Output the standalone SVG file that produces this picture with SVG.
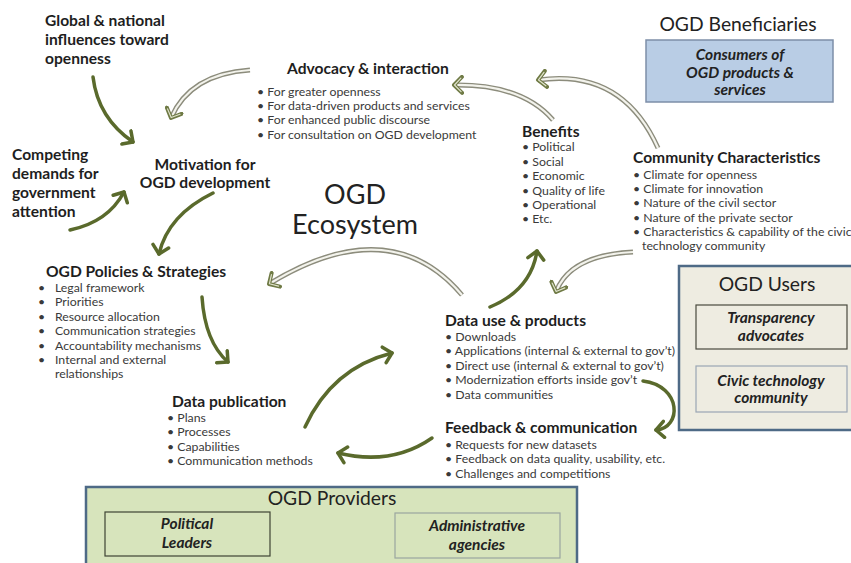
<svg xmlns="http://www.w3.org/2000/svg" width="851" height="563" viewBox="0 0 851 563">
<style>
.h{font-family:Lato,"Open Sans",sans-serif;font-weight:bold;font-size:15.6px;fill:#1e1e1e}
.i{font-family:Lato,"Open Sans",sans-serif;font-size:12.3px;fill:#3a3a3a}
.t{font-family:Lato,"Open Sans",sans-serif;font-size:19.3px;fill:#222}
.bi{font-family:Lato,"Open Sans",sans-serif;font-weight:bold;font-style:italic;font-size:15.5px;fill:#222;text-anchor:middle}
.big{font-family:Lato,"Open Sans",sans-serif;font-size:27px;fill:#222;text-anchor:middle}
.solid{fill:none;stroke:#5a6a2c;stroke-width:3.5;stroke-linecap:round}
.hol1{fill:none;stroke:#8c8c7c;stroke-width:5}
.hol2{fill:none;stroke:#f3f3ec;stroke-width:2.2}
</style>
<defs>
<marker id="ah" markerUnits="userSpaceOnUse" markerWidth="20" markerHeight="20" refX="10" refY="10" orient="auto" viewBox="0 0 20 20">
<path d="M2,2 L10,10 L2,18" fill="none" stroke="#5a6a2c" stroke-width="3.5" stroke-linecap="round" stroke-linejoin="round"/>
</marker>
<marker id="ahh" markerUnits="userSpaceOnUse" markerWidth="20" markerHeight="20" refX="10" refY="10" orient="auto" viewBox="0 0 20 20">
<path d="M2,2 L10,10 L2,18" fill="none" stroke="#6f7a45" stroke-width="4" stroke-linecap="round" stroke-linejoin="round"/>
<path d="M3,3.2 L9.5,10 L3,16.8" fill="none" stroke="#dfe2cc" stroke-width="1.2" stroke-linecap="round" stroke-linejoin="round"/>
</marker>
</defs>
<rect width="851" height="563" fill="#ffffff"/>

<g id="connectors">
<path class="solid" d="M93,77 Q98,118 133,142" marker-end="url(#ah)"/>
<path class="solid" d="M70,230 Q108,222 124,192" marker-end="url(#ah)"/>
<path class="solid" d="M213,193 Q168,215 159,254" marker-end="url(#ah)"/>
<path class="solid" d="M202,297 Q205,342 228,362" marker-end="url(#ah)"/>
<path class="solid" d="M305,427 Q332,368 392,353" marker-end="url(#ah)"/>
<path class="solid" d="M432,438 Q392,466 338,453" marker-end="url(#ah)"/>
<path class="solid" d="M490,307 Q531,290 537,251" marker-end="url(#ah)"/>
<path class="solid" d="M643,381 C682,386 682,428 656,430" marker-end="url(#ah)"/>

<path class="hol1" d="M250,70 Q190,74 171,118"/>
<path class="hol2" d="M250,70 Q190,74 171,118" marker-end="url(#ahh)"/>
<path class="hol1" d="M553,120 Q522,84 454,85"/>
<path class="hol2" d="M553,120 Q522,84 454,85" marker-end="url(#ahh)"/>
<path class="hol1" d="M658,148 Q622,68 538,80"/>
<path class="hol2" d="M658,148 Q622,68 538,80" marker-end="url(#ahh)"/>
<path class="hol1" d="M633,252 Q570,255 556,292"/>
<path class="hol2" d="M633,252 Q570,255 556,292" marker-end="url(#ahh)"/>
<path class="hol1" d="M462,295 Q390,210 269,284"/>
<path class="hol2" d="M462,295 Q390,210 269,284" marker-end="url(#ahh)"/>
</g>

<g id="global">
<text class="h" x="45" y="26">Global &amp; national</text>
<text class="h" x="45" y="45">influences toward</text>
<text class="h" x="45" y="64">openness</text>
</g>

<g id="competing">
<text class="h" x="12" y="160">Competing</text>
<text class="h" x="12" y="179">demands for</text>
<text class="h" x="12" y="198">government</text>
<text class="h" x="12" y="217">attention</text>
</g>

<g id="motivation">
<text class="h" x="205" y="170" text-anchor="middle">Motivation for</text>
<text class="h" x="205" y="188" text-anchor="middle">OGD development</text>
</g>

<g id="ecosystem">
<text class="big" x="355" y="204">OGD</text>
<text class="big" x="355" y="234">Ecosystem</text>
</g>

<g id="advocacy">
<text class="h" x="287" y="74">Advocacy &amp; interaction</text>
<text class="i" x="257" y="96">•  For greater openness</text>
<text class="i" x="257" y="110">•  For data-driven products and services</text>
<text class="i" x="257" y="124">•  For enhanced public discourse</text>
<text class="i" x="257" y="139">•  For consultation on OGD development</text>
</g>

<g id="benefits">
<text class="h" x="522" y="137">Benefits</text>
<text class="i" x="522" y="151">•  Political</text>
<text class="i" x="522" y="166">•  Social</text>
<text class="i" x="522" y="180">•  Economic</text>
<text class="i" x="522" y="195">•  Quality of life</text>
<text class="i" x="522" y="209">•  Operational</text>
<text class="i" x="522" y="223">•  Etc.</text>
</g>

<g id="community">
<text class="h" x="633" y="163">Community Characteristics</text>
<text class="i" x="633" y="179">•  Climate for openness</text>
<text class="i" x="633" y="193">•  Climate for innovation</text>
<text class="i" x="633" y="207">•  Nature of the civil sector</text>
<text class="i" x="633" y="222">•  Nature of the private sector</text>
<text class="i" x="633" y="236">•  Characteristics &amp; capability of the civic</text>
<text class="i" x="642" y="250">technology community</text>
</g>

<g id="beneficiaries">
<text class="t" x="738" y="31" text-anchor="middle">OGD Beneficiaries</text>
<rect x="646" y="40" width="187" height="62" fill="#b9cde5" stroke="#7d8ea8" stroke-width="1.5"/>
<text class="bi" x="740" y="60">Consumers of</text>
<text class="bi" x="740" y="78">OGD products &amp;</text>
<text class="bi" x="740" y="95">services</text>
</g>

<g id="policies">
<text class="h" x="46" y="277">OGD Policies &amp; Strategies</text>
<text class="i" x="38" y="292">•</text><text class="i" x="55" y="292">Legal framework</text>
<text class="i" x="38" y="306">•</text><text class="i" x="55" y="306">Priorities</text>
<text class="i" x="38" y="321">•</text><text class="i" x="55" y="321">Resource allocation</text>
<text class="i" x="38" y="335">•</text><text class="i" x="55" y="335">Communication strategies</text>
<text class="i" x="38" y="350">•</text><text class="i" x="55" y="350">Accountability mechanisms</text>
<text class="i" x="38" y="364">•</text><text class="i" x="55" y="364">Internal and external</text>
<text class="i" x="55" y="378">relationships</text>
</g>

<g id="users">
<rect x="679" y="266" width="175" height="164" fill="#eeece1" stroke="#4e6a86" stroke-width="2.5"/>
<text class="t" x="767" y="291" text-anchor="middle">OGD Users</text>
<rect x="696" y="305" width="151" height="44" fill="#eeece1" stroke="#4a4a3e" stroke-width="1.2"/>
<text class="bi" x="771" y="323">Transparency</text>
<text class="bi" x="771" y="341">advocates</text>
<rect x="696" y="366" width="151" height="46" fill="#eeece1" stroke="#9aa6b4" stroke-width="1.2"/>
<text class="bi" x="771" y="386">Civic technology</text>
<text class="bi" x="771" y="403">community</text>
</g>

<g id="datause">
<text class="h" x="445" y="326">Data use &amp; products</text>
<text class="i" x="445" y="341">•  Downloads</text>
<text class="i" x="445" y="355">•  Applications (internal &amp; external to gov’t)</text>
<text class="i" x="445" y="370">•  Direct use (internal &amp; external to gov’t)</text>
<text class="i" x="445" y="384">•  Modernization efforts inside gov’t</text>
<text class="i" x="445" y="399">•  Data communities</text>
</g>

<g id="feedback">
<text class="h" x="445" y="433">Feedback &amp; communication</text>
<text class="i" x="445" y="449">•  Requests for new datasets</text>
<text class="i" x="445" y="463">•  Feedback on data quality, usability, etc.</text>
<text class="i" x="445" y="478">•  Challenges and competitions</text>
</g>

<g id="publication">
<text class="h" x="172" y="407">Data publication</text>
<text class="i" x="167" y="422">•  Plans</text>
<text class="i" x="167" y="436">•  Processes</text>
<text class="i" x="167" y="451">•  Capabilities</text>
<text class="i" x="167" y="465">•  Communication methods</text>
</g>

<g id="providers">
<rect x="86" y="487" width="491" height="80" fill="#d7e4bc" stroke="#4e6a86" stroke-width="2.5"/>
<text class="t" x="332" y="505" text-anchor="middle">OGD Providers</text>
<rect x="105" y="512" width="165" height="44" fill="#d7e4bc" stroke="#3e4434" stroke-width="1.2"/>
<text class="bi" x="187" y="529">Political</text>
<text class="bi" x="187" y="548">Leaders</text>
<rect x="395" y="513" width="165" height="45" fill="#d7e4bc" stroke="#9aa6a0" stroke-width="1.2"/>
<text class="bi" x="477" y="531">Administrative</text>
<text class="bi" x="477" y="550">agencies</text>
</g>
</svg>
